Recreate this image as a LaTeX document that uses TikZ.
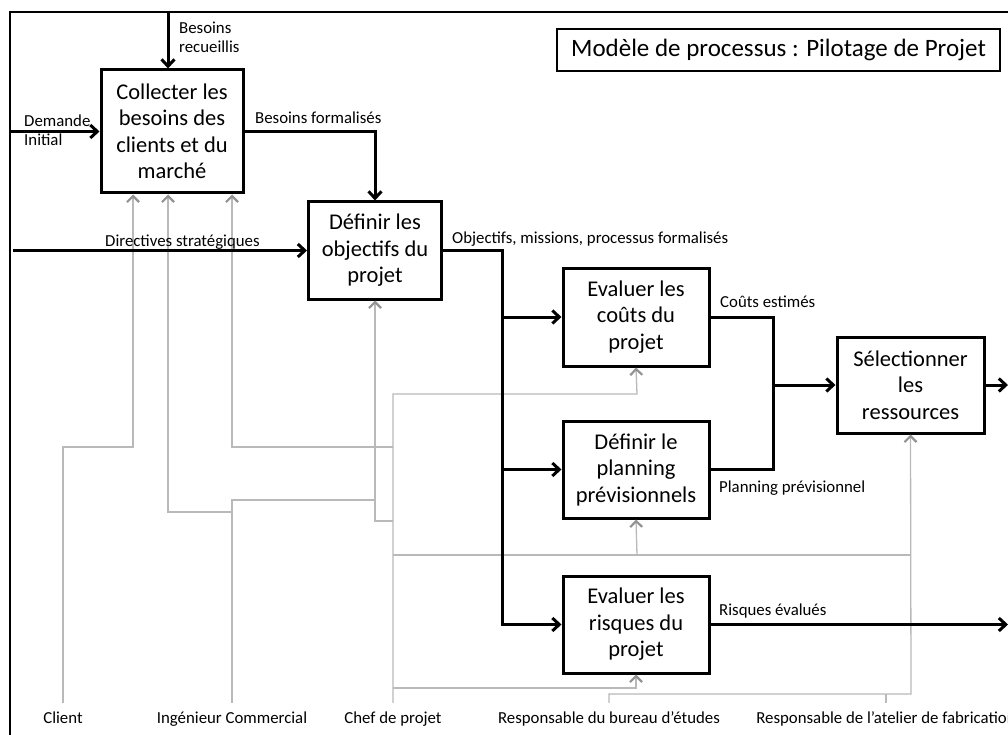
\documentclass[tikz,border=0pt]{standalone}
\usepackage{fontspec}
\setmainfont{Carlito}
\usetikzlibrary{arrows.meta}

\begin{document}
\begin{tikzpicture}[x=1pt, y=-1pt,
  boite/.style={draw, line width=3pt, align=center, inner sep=0pt, font=\fontsize{22.5}{26.5}\selectfont},
  flux/.style={line width=3pt, -{Straight Barb[length=7pt, width=13pt]}},
  meca/.style={draw=gray!55, line width=1.3pt},
  mecaf/.style={meca, -{Straight Barb[length=6pt, width=12pt, line width=2.2pt, color=gray!85]}},
  etiq/.style={inner sep=0pt, anchor=west, font=\fontsize{16.8}{19}\selectfont},
  bas/.style={inner xsep=0pt, inner ysep=9pt, text height=11pt, text depth=3pt, font=\fontsize{16.8}{18}\selectfont}]
  \useasboundingbox (0,0) rectangle (1008,735);
  % cadre
  \draw[line width=2pt] (10,740) -- (10,12) -- (1012,12);
  \node[draw, line width=1.8pt, minimum width=443pt, minimum height=42pt, font=\fontsize{25}{28}\selectfont] (titre) at (778.5,50) {Modèle de processus : Pilotage de Projet};

  % activites
  \node[boite, minimum width=142pt, minimum height=123pt] (collecte) at (172,131.5) {Collecter les\\besoins des\\clients et du\\marché};
  \node[boite, minimum width=133pt, minimum height=97pt] (objectifs) at (375,250.5) {Définir les\\objectifs du\\projet};
  \node[boite, minimum width=146pt, minimum height=98pt] (couts) at (636,317) {Evaluer les\\coûts du\\projet};
  \node[boite, minimum width=146pt, minimum height=97pt] (planning) at (636,469.5) {Définir le\\planning\\prévisionnels};
  \node[boite, minimum width=146pt, minimum height=97pt] (risques) at (636,624.5) {Evaluer les\\risques du\\projet};
  \node[boite, minimum width=147pt, minimum height=96pt] (ressources) at (910.5,385) {Sélectionner\\les\\ressources};

  % acteurs
  \node[bas] (client) at (63,719) {Client};
  \node[bas] (ingenieur) at (232,719) {Ingénieur Commercial};
  \node[bas] (chef) at (393,719) {Chef de projet};
  \node[bas] (bureau) at (609,719) {Responsable du bureau d’études};
  \node[bas] (atelier) at (886,719) {Responsable de l’atelier de fabrication};

  % mecanismes
  \draw[mecaf] (client.north) |- (133,447) -- (133,0 |- collecte.south);
  \draw[mecaf] (ingenieur.north) |- (375,500) -- (objectifs.south);
  \draw[mecaf] (232,512) -| (168,0 |- collecte.south);
  \draw[mecaf] (chef.north) |- (637,394) -- (couts.south);
  \draw[mecaf] (393,447) -| (232,0 |- collecte.south);
  \draw[meca] (393,521) -| (375,500);
  \draw[meca] (393,555) -- (911,555);
  \draw[mecaf] (637,555) -- (planning.south);
  \draw[mecaf] (393,688) -| (risques.south);
  \draw[mecaf] (bureau.north) |- (911,694) -- (ressources.south);
  \draw[meca] (atelier.north) -- (886,694);

  % flux
  \coordinate (entreeB) at (168,12);
  \coordinate (entreeD) at (10,131.5);
  \coordinate (entreeS) at (13,250.5);
  \coordinate (bus) at (502,250.5);
  \coordinate (jonction) at (773,385);
  \coordinate (sortieR) at (1008,385);
  \coordinate (sortieE) at (1008,624.5);
  \draw[flux] (entreeB) -- (entreeB |- collecte.north);
  \draw[flux] (entreeD) -- (collecte.west);
  \draw[flux] (collecte.east) -| (objectifs.north);
  \draw[flux] (entreeS) -- (objectifs.west);
  \draw[flux] (objectifs.east) -| (bus |- risques.west) -- (risques.west);
  \draw[flux] (bus |- couts.west) -- (couts.west);
  \draw[flux] (bus |- planning.west) -- (planning.west);
  \draw[line width=3pt] (couts.east) -| (jonction |- planning.east) -- (planning.east);
  \draw[flux] (jonction) -- (ressources.west);
  \draw[flux] (ressources.east) -- (sortieR);
  \draw[flux] (risques.east) -- (sortieE);

  % etiquettes
  \node[etiq, align=left] (lrecueil) at (179,37) {Besoins\\recueillis};
  \node[etiq, align=left] (ldemande) at (24,130) {Demande\\Initial};
  \node[etiq] (lformal) at (255,118) {Besoins formalisés};
  \node[etiq] (ldirect) at (105,242) {Directives stratégiques};
  \node[etiq] (lobject) at (452,239) {Objectifs, missions, processus formalisés};
  \node[etiq] (lcouts) at (720,302) {Coûts estimés};
  \node[etiq] (lplan) at (719,488) {Planning prévisionnel};
  \node[etiq] (lrisq) at (719,611) {Risques évalués};
\end{tikzpicture}
\end{document}
